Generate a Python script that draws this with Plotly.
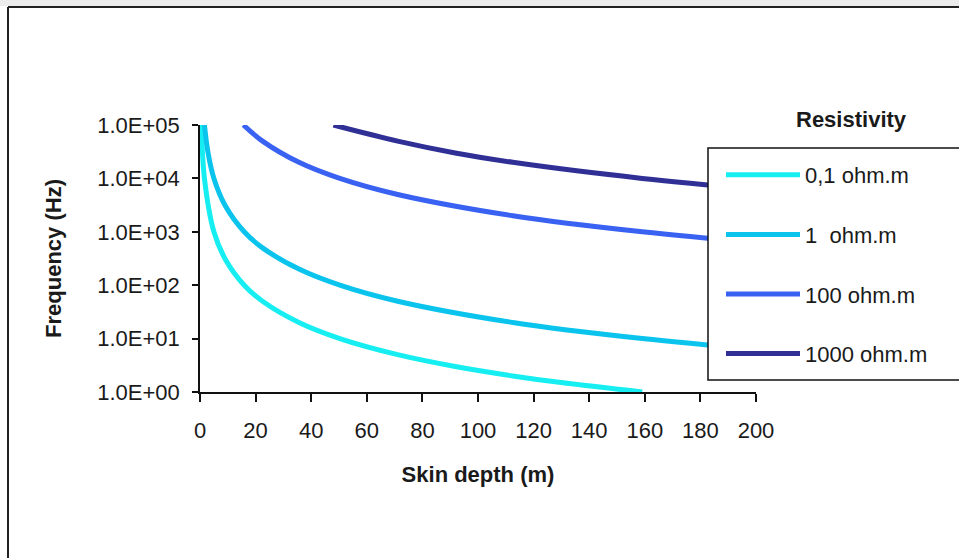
import plotly.graph_objects as go

# Frequencies (Hz) and the skin depths (m) read for each resistivity
freq_01 = [100000, 10000, 1000, 300, 100, 50, 20, 10, 5, 3, 2, 1.5, 1]
depth_01 = [0.5, 1.6, 5.0, 9.2, 15.9, 22.5, 35.6, 50.3, 71.1, 91.8, 112.5, 129.9, 159.1]

freq_1 = [100000, 30000, 10000, 3000, 1000, 500, 200, 100, 50, 20, 10, 6.3]
depth_1 = [1.6, 2.9, 5.0, 9.2, 15.9, 22.5, 35.6, 50.3, 71.1, 112.5, 159.1, 200.4]

freq_100 = [100000, 50000, 20000, 10000, 5000, 2000, 1000, 632]
depth_100 = [15.6, 22.5, 35.6, 50.3, 71.1, 112.5, 159.1, 200.1]

freq_1000 = [100000, 50000, 30000, 20000, 10000, 6300]
depth_1000 = [48.0, 71.1, 91.8, 112.5, 159.1, 200.4]

series_names = ["0,1 ohm.m", "1 \u00a0ohm.m", "100 ohm.m", "1000 ohm.m"]
series_colors = ["#16EEF2", "#0AC4EE", "#3A62F2", "#2F2F96"]
series_x = [depth_01, depth_1, depth_100, depth_1000]
series_y = [freq_01, freq_1, freq_100, freq_1000]

y_tickvals = [1, 10, 100, 1000, 10000, 100000]
y_ticktext = ["1.0E+00", "1.0E+01", "1.0E+02", "1.0E+03", "1.0E+04", "1.0E+05"]
x_tickvals = [0, 20, 40, 60, 80, 100, 120, 140, 160, 180, 200]

W, H = 959, 558
L, R, T, B = 200, 756, 125, 392  # plot-area pixel box

FONT = "Liberation Sans, Arial, sans-serif"
TXT = "#1a1a1a"
FS = 22

fig = go.Figure()
for i, (nm, col, xs, ys) in enumerate(zip(series_names, series_colors, series_x, series_y)):
    fig.add_trace(go.Scatter(
        x=xs, y=ys, mode="lines", name=nm,
        line=dict(color=col, width=5, shape="spline", smoothing=1.0),
        legendgroup=f"g{i}",
    ))

pw, ph = R - L, B - T
def px2x(px):
    return (px - L) / pw
def py2y(py):
    return (B - py) / ph

shapes = [
    # light grey strip along the top of the frame
    dict(type="rect", xref="paper", yref="paper",
         x0=px2x(-5), x1=px2x(970), y0=py2y(6), y1=py2y(-5),
         line=dict(width=0), fillcolor="#ececec", layer="below"),
    # outer frame: left and top edges
    dict(type="line", xref="paper", yref="paper",
         x0=px2x(8), x1=px2x(8), y0=py2y(560), y1=py2y(7),
         line=dict(color="#222222", width=2)),
    dict(type="line", xref="paper", yref="paper",
         x0=px2x(8), x1=px2x(975), y0=py2y(7), y1=py2y(7),
         line=dict(color="#222222", width=2)),
    # legend box (runs off the right edge)
    dict(type="rect", xref="paper", yref="paper",
         x0=px2x(708), x1=px2x(985), y0=py2y(380), y1=py2y(148),
         line=dict(color="#111111", width=1.5), fillcolor="white", layer="above"),
]

fig.update_layout(
    width=W, height=H,
    margin=dict(l=L, r=W - R, t=T, b=H - B, pad=0),
    paper_bgcolor="white", plot_bgcolor="white",
    font=dict(family=FONT, size=FS, color=TXT),
    showlegend=True,
    legend=dict(
        x=px2x(721), y=py2y(154), xanchor="left", yanchor="top",
        bgcolor="rgba(0,0,0,0)", borderwidth=0,
        font=dict(family=FONT, size=FS, color=TXT),
        itemwidth=74, tracegroupgap=28, traceorder="grouped",
    ),
    xaxis=dict(
        range=[0, 200], tickvals=x_tickvals, showgrid=False, zeroline=False,
        showline=True, linecolor="#111111", linewidth=1.5,
        ticks="outside", ticklen=8, tickwidth=1.5, tickcolor="#111111",
        tickfont=dict(family=FONT, size=FS, color=TXT), ticklabelstandoff=10,
        title=dict(text="<b>Skin depth (m)</b>", font=dict(family=FONT, size=FS, color=TXT), standoff=24),
    ),
    yaxis=dict(
        type="log", range=[0, 5], tickvals=y_tickvals, ticktext=y_ticktext,
        showgrid=False, zeroline=False,
        showline=True, linecolor="#111111", linewidth=1.5,
        ticks="outside", ticklen=6, tickwidth=1.5, tickcolor="#111111",
        tickfont=dict(family=FONT, size=FS, color=TXT), ticklabelstandoff=8,
        title=dict(text="<b>Frequency (Hz)</b>", font=dict(family=FONT, size=FS, color=TXT), standoff=30),
    ),
    shapes=shapes,
    annotations=[dict(
        text="<b>Resistivity</b>", xref="paper", yref="paper",
        x=px2x(851), y=py2y(120), xanchor="center", yanchor="middle",
        showarrow=False, font=dict(family=FONT, size=FS, color=TXT),
    )],
)

fig.write_html("out.html")
